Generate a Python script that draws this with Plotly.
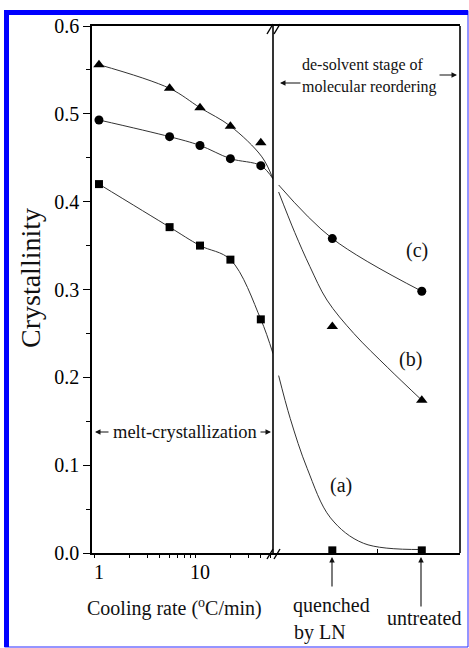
import plotly.graph_objects as go

# ---- measured data -------------------------------------------------------
cooling_rate = [1, 5, 10, 20, 40]                      # degC/min
cryst_a_melt = [0.420, 0.371, 0.350, 0.334, 0.266]
cryst_b_melt = [0.556, 0.529, 0.507, 0.486, 0.467]
cryst_c_melt = [0.493, 0.474, 0.464, 0.449, 0.441]

treatments = ["quenched by LN", "untreated"]
treatment_pos = [1, 2]
cryst_a_treat = [0.003, 0.003]
cryst_b_treat = [0.258, 0.174]
cryst_c_treat = [0.358, 0.298]

# ---- hand-drawn guide curves (spline knots) -----------------------------
guide_a_melt_x = [1, 5, 10, 20, 40, 52.8]
guide_a_melt_y = [0.420, 0.371, 0.350, 0.334, 0.266, 0.227]
guide_b_melt_x = [1, 5, 10, 20, 41, 52.8]
guide_b_melt_y = [0.556, 0.529, 0.507, 0.486, 0.451, 0.426]
guide_c_melt_x = [1, 5, 10, 20, 40, 52.8]
guide_c_melt_y = [0.493, 0.474, 0.464, 0.449, 0.441, 0.426]

guide_a_treat_x = [0.40, 0.53, 0.72, 0.98, 1.35, 2.0]
guide_a_treat_y = [0.202, 0.153, 0.096, 0.040, 0.011, 0.004]
guide_b_treat_x = [0.40, 0.58, 0.75, 0.94, 1.24, 1.62, 2.0]
guide_b_treat_y = [0.411, 0.365, 0.326, 0.288, 0.250, 0.211, 0.174]
guide_c_treat_x = [0.40, 1.0, 2.0]
guide_c_treat_y = [0.419, 0.358, 0.298]

y_ticks = [0.0, 0.1, 0.2, 0.3, 0.4, 0.5, 0.6]
y_tick_text = ["0.0", "0.1", "0.2", "0.3", "0.4", "0.5", "0.6"]
x_ticks = [1, 10]
x_tick_text = ["1", "10"]
x_minor = [0.9, 2, 3, 4, 5, 6, 7, 8, 9, 20, 30, 40, 50]

# ---- layout geometry (pixels) --------------------------------------------
W, H = 469, 648
ML, MR, MT, MB = 92, 9, 26, 95
PW, PH = W - ML - MR, H - MT - MB
BREAK_PX = 273
X_RANGE_LOG = [-0.069, 1.7226]


def px(x):
    return (x - ML) / PW


def py(y):
    return 1 - (y - MT) / PH


split = px(BREAK_PX)
SERIF = "Liberation Serif"
INK = "#111111"

fig = go.Figure()


def guide(x, y, axis):
    fig.add_trace(go.Scatter(
        x=x, y=y, mode="lines", xaxis=axis, yaxis="y",
        line=dict(color="#333333", width=1, shape="spline", smoothing=1.0),
        hoverinfo="skip", showlegend=False))


for gx, gy in [(guide_a_melt_x, guide_a_melt_y),
               (guide_b_melt_x, guide_b_melt_y),
               (guide_c_melt_x, guide_c_melt_y)]:
    guide(gx, gy, "x")
for gx, gy in [(guide_a_treat_x, guide_a_treat_y),
               (guide_b_treat_x, guide_b_treat_y),
               (guide_c_treat_x, guide_c_treat_y)]:
    guide(gx, gy, "x2")

series = [
    (cryst_a_melt, cryst_a_treat, "square", 8),
    (cryst_b_melt, cryst_b_treat, "triangle-up", 10),
    (cryst_c_melt, cryst_c_treat, "circle", 9),
]
for melt, treat, sym, size in series:
    mk = dict(symbol=sym, size=size, color="black", line=dict(width=0))
    fig.add_trace(go.Scatter(x=cooling_rate, y=melt, mode="markers",
                             xaxis="x", yaxis="y", marker=mk,
                             cliponaxis=False, showlegend=False))
    fig.add_trace(go.Scatter(x=treatment_pos, y=treat, mode="markers",
                             xaxis="x2", yaxis="y", marker=mk,
                             cliponaxis=False, showlegend=False,
                             text=treatments))

axis_common = dict(showgrid=False, zeroline=False, linecolor="black",
                   linewidth=1.6, tickcolor="black",
                   tickfont=dict(family=SERIF, size=20, color="black"))

fig.update_layout(
    width=W, height=H,
    margin=dict(l=ML, r=MR, t=MT, b=MB),
    paper_bgcolor="white", plot_bgcolor="white",
    font=dict(family=SERIF, color=INK),
    showlegend=False,
    # log cooling-rate axis: labels only, sits tight under the line
    xaxis=dict(axis_common, type="log", domain=[0, split],
               range=X_RANGE_LOG, showline=True, mirror=True,
               tickvals=x_ticks, ticktext=x_tick_text,
               ticks="", ticklabelstandoff=0,
               minor=dict(tickvals=x_minor, ticks="outside", ticklen=3,
                          tickwidth=1.2, tickcolor="black"),
               anchor="y"),
    # overlay carrying the longer decade tick marks
    xaxis3=dict(type="log", domain=[0, split], range=X_RANGE_LOG,
                overlaying="x", anchor="y", showline=False,
                showgrid=False, zeroline=False, tickvals=x_ticks,
                ticks="outside", ticklen=6, tickwidth=1.4,
                tickcolor="black", showticklabels=False),
    xaxis2=dict(axis_common, domain=[split, 1], range=[0.337, 2.427],
                showline=True, mirror=True, tickvals=[1.5],
                ticks="inside", ticklen=4, tickwidth=1.2,
                showticklabels=False, anchor="y"),
    yaxis=dict(axis_common, range=[0, 0.6], showline=True,
               tickvals=y_ticks, ticktext=y_tick_text,
               ticks="outside", ticklen=7, tickwidth=1.4,
               minor=dict(dtick=0.05, ticks="outside", ticklen=4,
                          tickwidth=1.2, tickcolor="black"),
               anchor="x"),
)

shapes = []
# right edge and the break divider of the plot box
for xp in (px(W - MR), split):
    shapes.append(dict(type="line", xref="paper", yref="paper",
                       x0=xp, x1=xp, y0=0, y1=1,
                       line=dict(color="black", width=1.6)))
# "//" break marks on the top and bottom axis lines
for yc in (29, 554):
    for dx in (-3, 4):
        cx = BREAK_PX + dx
        shapes.append(dict(type="line", xref="paper", yref="paper",
                           x0=px(cx - 3), x1=px(cx + 3),
                           y0=py(yc + 5), y1=py(yc - 5),
                           line=dict(color="black", width=1.4)))
# blue page frame
shapes.append(dict(type="rect", xref="paper", yref="paper",
                   x0=px(4.5), x1=px(468), y0=py(647), y1=py(10.5),
                   line=dict(color="#2a2aff", width=1)))
shapes.append(dict(type="rect", xref="paper", yref="paper",
                   x0=px(4), x1=px(9), y0=py(647), y1=py(10),
                   fillcolor="#0000ff", line=dict(width=0)))
shapes.append(dict(type="rect", xref="paper", yref="paper",
                   x0=px(4), x1=px(468), y0=py(15), y1=py(10),
                   fillcolor="#0000ff", line=dict(width=0)))
fig.update_layout(shapes=shapes)


def label(text, x, y, size=16, xanchor="center", angle=0):
    fig.add_annotation(text=text, xref="paper", yref="paper",
                       x=px(x), y=py(y), xanchor=xanchor, yanchor="middle",
                       showarrow=False, textangle=angle,
                       font=dict(family=SERIF, size=size, color=INK))


def arrow(hx, hy, tx, ty):
    fig.add_annotation(text="", xref="paper", yref="paper",
                       x=px(hx), y=py(hy), ax=tx - hx, ay=ty - hy,
                       showarrow=True, arrowhead=2, arrowsize=1,
                       arrowwidth=1.1, arrowcolor=INK, standoff=0)


label("Crystallinity", 30, 278, size=28, angle=-90)
label("Cooling rate (<sup>o</sup>C/min)", 174, 607, size=20)
label("quenched", 331, 605, size=20)
label("by LN", 292, 632, size=20, xanchor="left")
label("untreated", 424, 618, size=20)
label("de-solvent stage of", 300, 65, size=16, xanchor="left")
label("molecular reordering", 300, 87, size=16, xanchor="left")
label("melt-crystallization", 185, 432, size=18.5)
label("(a)", 341, 485, size=20)
label("(b)", 410, 359, size=20)
label("(c)", 417, 250, size=20)

arrow(95, 432, 110, 432)
arrow(271, 432, 259, 432)
arrow(280, 83, 302, 83)
arrow(457, 75, 438, 75)
arrow(332, 557, 332, 588)
arrow(421, 557, 421, 608)

fig.write_html("out.html")
